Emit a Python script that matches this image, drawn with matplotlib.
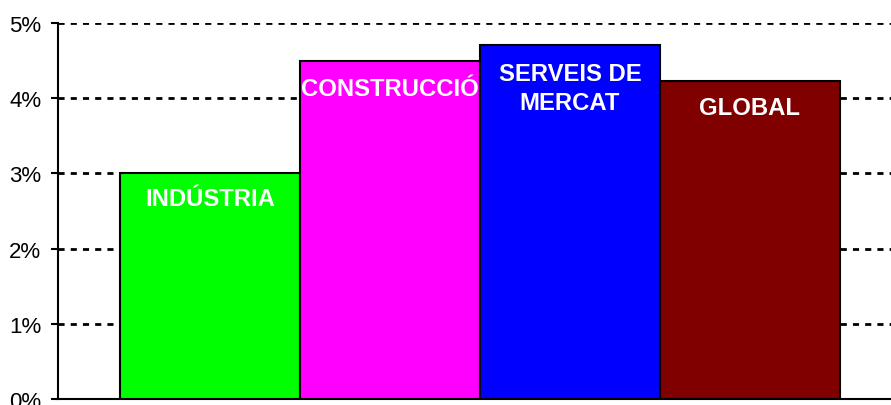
import numpy as np
import matplotlib
matplotlib.use("Agg")
import matplotlib.pyplot as plt
from matplotlib.ticker import FuncFormatter

# data
sectors = ["INDÚSTRIA", "CONSTRUCCIÓ", "SERVEIS DE\nMERCAT", "GLOBAL"]
growth = [3.01, 4.49, 4.71, 4.23]
colors = ["#00ff00", "#ff00ff", "#0000ff", "#800000"]
label_y = [2.67, 4.13, 4.14, 3.87]
y_ticks = [0, 1, 2, 3, 4, 5]

plt.rcParams['font.family'] = ['Liberation Sans', 'DejaVu Sans']

fig = plt.figure(figsize=(8.91, 4.06), dpi=100)
ax = fig.add_axes([58/891, 6/406, 1 - 58/891, (400 - 24)/406])

x = np.arange(len(sectors))
ax.bar(x, growth, width=1.0, color=colors, edgecolor="black", linewidth=1.5, zorder=3)

for xi, name, ly in zip(x, sectors, label_y):
    ax.text(xi, ly, name, ha="center", va="center", color="white",
            fontsize=17.2, fontweight="bold", linespacing=1.32, zorder=4)

ax.set_xlim(-0.845, 3.785)
ax.set_ylim(0, 5)
ax.set_yticks(y_ticks)
ax.yaxis.set_major_formatter(FuncFormatter(lambda v, p: "%d%%" % v))
ax.tick_params(axis="y", length=5, width=1.5, labelsize=16, pad=7)
ax.set_xticks([])
ax.grid(axis="y", color="black", linestyle=(0, (2.2, 2.2)), linewidth=2, zorder=1)
ax.set_axisbelow(True)

for s in ["top", "right"]:
    ax.spines[s].set_visible(False)
ax.spines["left"].set_linewidth(1.5)
ax.spines["bottom"].set_linewidth(1.5)

fig.savefig("out.png", dpi=100)
